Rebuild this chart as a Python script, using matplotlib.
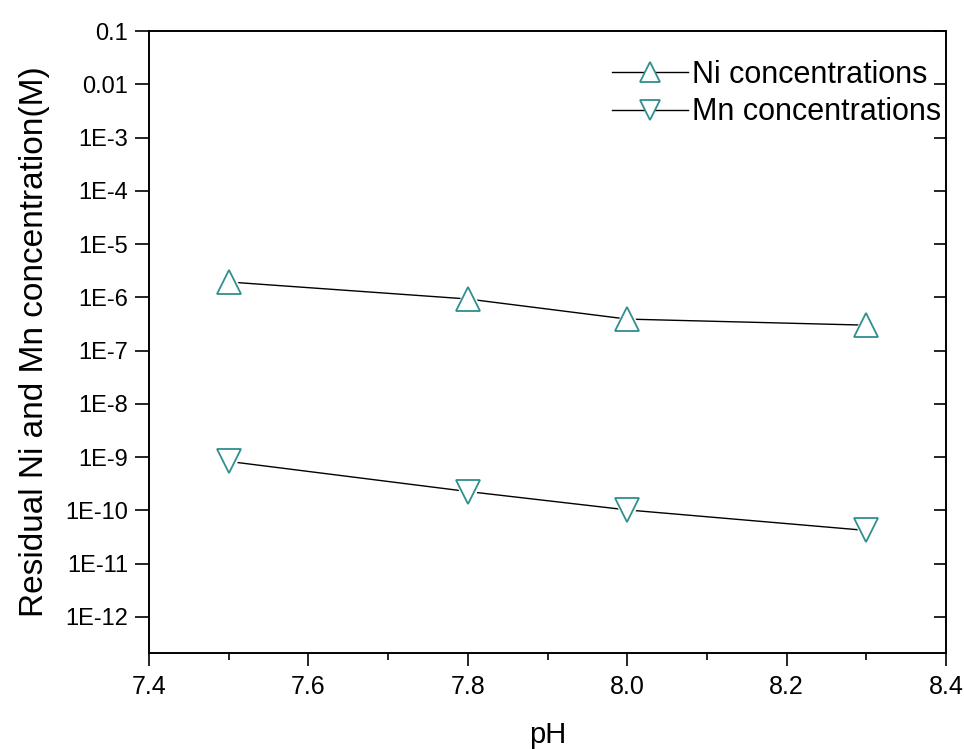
import matplotlib
matplotlib.use("Agg")
import matplotlib.pyplot as plt
from matplotlib.ticker import FixedLocator, NullLocator, MultipleLocator
from matplotlib.lines import Line2D

plt.rcParams['font.family'] = ['Liberation Sans', 'DejaVu Sans']

ph = [7.5, 7.8, 8.0, 8.3]
ni_conc = [1.94e-6, 9.3e-7, 3.9e-7, 3.0e-7]
mn_conc = [8.3e-10, 2.26e-10, 1.02e-10, 4.2e-11]

ytick_vals = [1e-1, 1e-2, 1e-3, 1e-4, 1e-5, 1e-6, 1e-7, 1e-8, 1e-9, 1e-10, 1e-11, 1e-12]
ytick_labels = ['0.1', '0.01', '1E-3', '1E-4', '1E-5', '1E-6', '1E-7', '1E-8',
                '1E-9', '1E-10', '1E-11', '1E-12']
xtick_vals = [7.4, 7.6, 7.8, 8.0, 8.2, 8.4]
xtick_labels = ['7.4', '7.6', '7.8', '8.0', '8.2', '8.4']

teal = '#2f8f8f'

fig = plt.figure(figsize=(9.64, 7.49), dpi=100)
ax = fig.add_axes([149/964, 1-653/749, (946-149)/964, (653-31)/749])

for ys, mk in [(ni_conc, '^'), (mn_conc, 'v')]:
    ax.plot(ph, ys, color='black', lw=1.0, zorder=1)
    ax.plot(ph, ys, ls='none', marker=mk, ms=20, mfc='white', mec='white', mew=2, zorder=2)
    ax.plot(ph, ys, ls='none', marker=mk, ms=17, mfc='white', mec=teal, mew=1.3, zorder=3)

ax.set_yscale('log')
ax.set_ylim(2.1e-13, 0.1)
ax.set_xlim(7.4, 8.4)

ax.yaxis.set_major_locator(FixedLocator(ytick_vals))
ax.set_yticklabels(ytick_labels)
ax.yaxis.set_minor_locator(NullLocator())
ax.set_xticks(xtick_vals)
ax.set_xticklabels(xtick_labels)
ax.xaxis.set_minor_locator(MultipleLocator(0.1))

for s in ax.spines.values():
    s.set_linewidth(1.2)

ax.tick_params(axis='y', which='major', direction='out', length=10, width=1.2,
               labelsize=17, left=True, right=False, pad=5)
ax.tick_params(axis='x', which='major', direction='out', length=9, width=1.2,
               labelsize=18, top=False, pad=7)
ax.tick_params(axis='x', which='minor', direction='out', length=5, width=1.2, top=False)

ax2 = ax.twinx()
ax2.set_yscale('log')
ax2.set_ylim(ax.get_ylim())
ax2.yaxis.set_major_locator(FixedLocator(ytick_vals))
ax2.yaxis.set_minor_locator(NullLocator())
ax2.tick_params(axis='y', direction='in', length=9, width=1.2, labelright=False)
for s in ax2.spines.values():
    s.set_linewidth(1.2)

ax.set_xlabel('pH', fontsize=21, labelpad=16)
ax.set_ylabel('Residual Ni and Mn concentration(M)', fontsize=24, labelpad=11)

handles = [Line2D([], [], color='black', lw=1.0, marker='^', ms=15, mfc='white', mec=teal, mew=1.3),
           Line2D([], [], color='black', lw=1.0, marker='v', ms=15, mfc='white', mec=teal, mew=1.3)]
leg = ax2.legend(handles, ['Ni concentrations', 'Mn concentrations'], loc='upper left',
                 bbox_to_anchor=(0.581, 0.954), frameon=False, fontsize=22,
                 handlelength=2.5, handletextpad=0.1, labelspacing=0.25, borderaxespad=0,
                 borderpad=0)

fig.savefig('out.png', dpi=100)
